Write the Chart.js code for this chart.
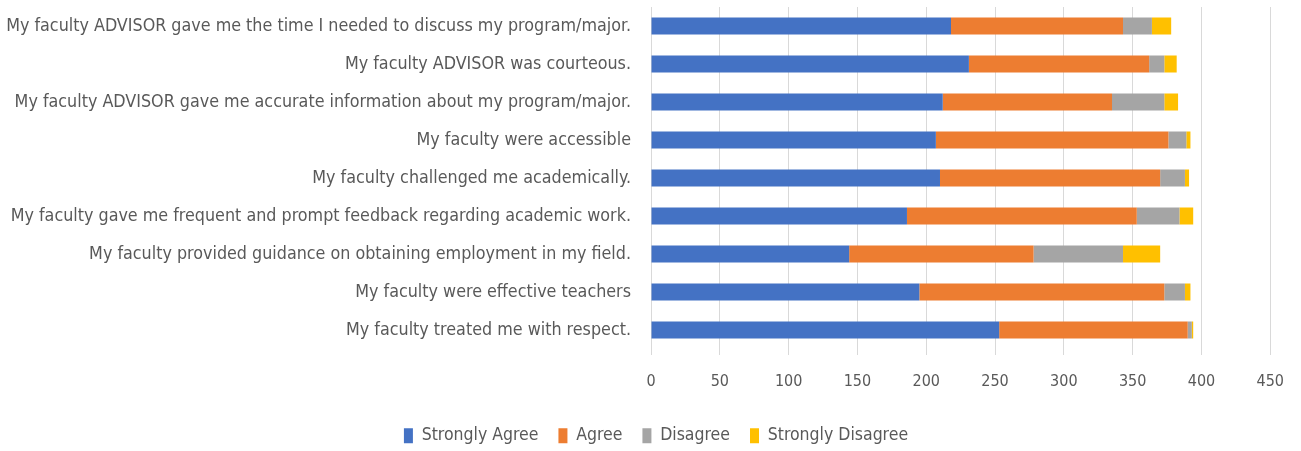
<!DOCTYPE html>
<html><head><meta charset="utf-8">
<script src="https://cdn.jsdelivr.net/npm/chart.js@4/dist/chart.umd.min.js"></script>
<style>html,body{margin:0;padding:0;background:#fff}#wrap{width:1301px;height:451px}</style>
</head><body><div id="wrap"><canvas id="c" width="1301" height="451"></canvas></div>
<script>
const categories = [
  "My faculty ADVISOR gave me the time I needed to discuss my program/major.",
  "My faculty ADVISOR was courteous.",
  "My faculty ADVISOR gave me accurate information about my program/major.",
  "My faculty were accessible",
  "My faculty challenged me academically.",
  "My faculty gave me frequent and prompt feedback regarding academic work.",
  "My faculty provided guidance on obtaining employment in my field.",
  "My faculty were effective teachers",
  "My faculty treated me with respect."
];
const stronglyAgree    = [218, 231, 212, 207, 210, 186, 144, 195, 253];
const agree            = [125, 131, 123, 169, 160, 167, 134, 178, 137];
const disagree         = [21, 11, 38, 13, 18, 31, 65, 15, 3];
const stronglyDisagree = [14, 9, 10, 3, 3, 10, 27, 4, 1];
const xTicks = [0, 50, 100, 150, 200, 250, 300, 350, 400, 450];

const FONT = "'DejaVu Sans Condensed', sans-serif";
const TXT = '#595959';

// pick label font size so the longest label is ~627px wide
const mctx = document.createElement('canvas').getContext('2d');
let LBL = 17;
for (let s = 14; s <= 22; s += 0.25) {
  mctx.font = s + "px " + FONT;
  const w = Math.max(...categories.map(c => mctx.measureText(c).width));
  if (w <= 627) LBL = s;
}

const mk = (label, data, color) => ({label, data, backgroundColor: color, borderWidth: 0,
  barPercentage: 0.45, categoryPercentage: 1.0});

const legendShift = {
  id: 'legendShift',
  afterLayout(chart) {
    if (chart.legend) { chart.legend.left += 19; chart.legend.right += 19; }
  }
};

new Chart(document.getElementById('c'), {
  type: 'bar',
  data: {
    labels: categories,
    datasets: [
      mk('Strongly Agree', stronglyAgree, '#4472C4'),
      mk('Agree', agree, '#ED7D31'),
      mk('Disagree', disagree, '#A5A5A5'),
      mk('Strongly Disagree', stronglyDisagree, '#FFC000')
    ]
  },
  plugins: [legendShift],
  options: {
    indexAxis: 'y',
    responsive: false,
    animation: false,
    devicePixelRatio: 1,
    layout: {padding: {top: 7, right: 27, left: 0, bottom: 0}},
    plugins: {
      legend: {
        position: 'bottom',
        maxHeight: 44,
        labels: {font: {family: FONT, size: 17.5}, color: TXT, boxWidth: 9, boxHeight: 15, padding: 20}
      },
      tooltip: {enabled: false}
    },
    scales: {
      x: {
        stacked: true, min: 0, max: 450,
        afterBuildTicks: (s) => { s.ticks = xTicks.map(v => ({value: v})); },
        afterFit: (s) => { s.height = 58; },
        ticks: {font: {family: FONT, size: 16}, color: TXT, padding: 17},
        grid: {color: '#D9D9D9', lineWidth: 1, tickLength: 6},
        border: {display: false}
      },
      y: {
        stacked: true,
        afterFit: (s) => { s.width = 651; s.paddingTop = 0; s.paddingBottom = 0; },
        ticks: {font: {family: FONT, size: LBL}, color: TXT, padding: 12, autoSkip: false},
        grid: {display: false},
        border: {display: true, color: '#D9D9D9'}
      }
    }
  }
});
</script></body></html>
